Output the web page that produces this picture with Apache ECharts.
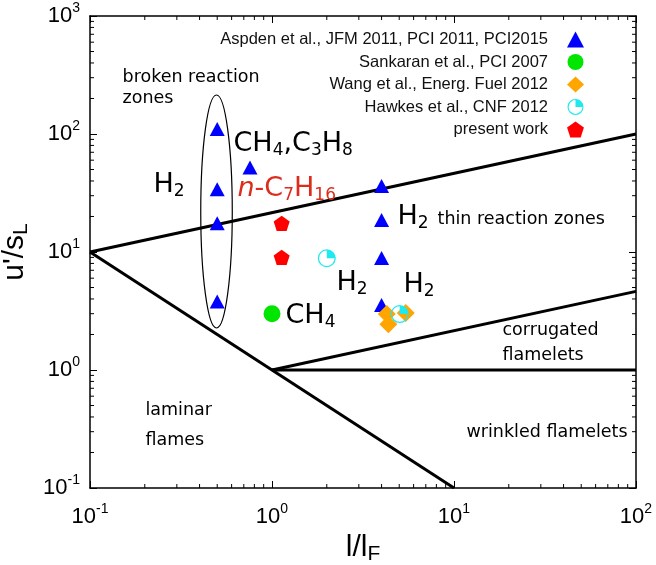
<!DOCTYPE html>
<html>
<head>
<meta charset="utf-8">
<script src="https://cdn.jsdelivr.net/npm/echarts@6/dist/echarts.min.js"></script>
<style>
  html, body { margin: 0; padding: 0; background: #fff; }
  #chart { width: 656px; height: 565px; }
</style>
</head>
<body>
<div id="chart"></div>
<script>
// ---- data: points on the regime diagram, [l/lF, u'/sL] ----
const aspden   = [[0.5, 110], [0.5, 34], [0.5, 17.5], [0.5, 3.8], [0.757, 52],
                  [4, 36.2], [4, 18.7], [4, 8.9], [4, 3.56]];
const sankaran = [[1.0, 3.0]];
const wang     = [[4.27, 2.98], [4.36, 2.44], [5.43, 3.04]];
const hawkes   = [[2.0, 8.85], [5.03, 2.98]];
const present  = [[1.13, 17.5], [1.13, 9.0]];

const seriesNames = [
  'Aspden et al., JFM 2011, PCI 2011, PCI2015',
  'Sankaran et al., PCI 2007',
  'Wang et al., Energ. Fuel 2012',
  'Hawkes et al., CNF 2012',
  'present work'
];

// ---- regime boundaries (end points) ----
const boundaryLines = [
  [[0.1, 10], [100, 100]],   // Ka = 100
  [[0.1, 10], [10, 0.1]],    // Re = 1
  [[1, 1], [100, 4.64]],     // Ka = 1
  [[1, 1], [100, 1]]         // u'/sL = 1
];
// outline around the Aspden points at l/lF = 0.5
const ellipseBox = [[0.406, 2.27], [0.605, 214]];

// ---- axes ----
const xRange = [0.1, 100];
const yRange = [0.1, 1000];
const xDecades = [0.1, 1, 10];
const yDecades = [0.1, 1, 10, 100];
const minorMantissas = [2, 3, 4, 5, 6, 7, 8, 9];

// ---- text labels in the regions ----
const regionLabels = [
  { at: [0.150, 300],  text: 'broken reaction' },
  { at: [0.150, 199],  text: 'zones' },
  { at: [8.07, 18.8],  text: 'thin reaction zones' },
  { at: [18.35, 2.153], text: 'corrugated' },
  { at: [18.35, 1.32], text: 'flamelets' },
  { at: [0.2005, 0.452], text: 'laminar' },
  { at: [0.2005, 0.252], text: 'flames' },
  { at: [11.64, 0.294], text: 'wrinkled flamelets' }
];
const fuelLabels = [
  { at: [0.6106, 82.3], parts: [['m', 'CH'], ['s', '4'], ['m', ',C'], ['s', '3'], ['m', 'H'], ['s', '8']] },
  { at: [0.2219, 37.0], parts: [['m', 'H'], ['s', '2']] },
  { at: [0.6423, 34.2], parts: [['i', 'n'], ['m', '-C'], ['s', '7'], ['m', 'H'], ['s', '16']], color: '#dd2c1c' },
  { at: [4.86, 19.8],   parts: [['m', 'H'], ['s', '2']] },
  { at: [2.247, 5.46],  parts: [['m', 'H'], ['s', '2']] },
  { at: [5.245, 5.25],  parts: [['m', 'H'], ['s', '2']] },
  { at: [1.179, 2.87],  parts: [['m', 'CH'], ['s', '4']] }
];

const SANS = 'Liberation Sans';
const LABEL_FONT = 'DejaVu Sans';

// pentagon and a ring with one filled quadrant
const pentagonPath = 'path://M0,-1 L0.951,-0.309 L0.588,0.809 L-0.588,0.809 L-0.951,-0.309 Z';
const quarterRingPath = 'path://M0,-10 A10,10 0 1 1 0,10 A10,10 0 1 1 0,-10 Z ' +
  'M0,-8.6 A8.6,8.6 0 1 0 0,8.6 A8.6,8.6 0 1 0 0,-8.6 Z ' +
  'M0,0 L0,-8.6 A8.6,8.6 0 0 1 8.6,0 Z';

function powerLabel(v) {
  const e = Math.round(Math.log10(v));
  return '{b|10}{s|' + e + '}';
}
const powerRich = {
  b: { fontFamily: SANS, fontSize: 22, color: '#000', lineHeight: 30 },
  s: { fontFamily: SANS, fontSize: 14, color: '#000', verticalAlign: 'top', lineHeight: 16 }
};

function axisBase(extra) {
  return Object.assign({
    type: 'log',
    logBase: 10,
    axisLine: { show: true, onZero: false, lineStyle: { color: '#000', width: 1.5 } },
    axisTick: { show: true, inside: true, length: 7, lineStyle: { color: '#000', width: 1 } },
    splitLine: { show: false },
    minorTick: { show: false }
  }, extra);
}

const chart = echarts.init(document.getElementById('chart'), null, { renderer: 'canvas' });

// minor ticks at 2..9 x 10^n on the four sides
const xMinor = [];
xDecades.forEach(d => minorMantissas.forEach(m => xMinor.push([m * d, 1])));
const yMinor = [];
yDecades.forEach(d => minorMantissas.forEach(m => yMinor.push([1, m * d])));
const MINOR_LEN = 4;

function minorTickSeries(data, isX) {
  return {
    type: 'custom',
    silent: true,
    clip: false,
    z: 3,
    data: data,
    renderItem: function (params, api) {
      const cs = params.coordSys;
      const style = { stroke: '#000', lineWidth: 1 };
      if (isX) {
        const px = api.coord([api.value(0), 1])[0];
        const b = cs.y + cs.height, t = cs.y;
        return { type: 'group', children: [
          { type: 'line', shape: { x1: px, y1: b, x2: px, y2: b - MINOR_LEN }, style: style },
          { type: 'line', shape: { x1: px, y1: t, x2: px, y2: t + MINOR_LEN }, style: style }
        ] };
      }
      const py = api.coord([1, api.value(1)])[1];
      const l = cs.x, r = cs.x + cs.width;
      return { type: 'group', children: [
        { type: 'line', shape: { x1: l, y1: py, x2: l + MINOR_LEN, y2: py }, style: style },
        { type: 'line', shape: { x1: r, y1: py, x2: r - MINOR_LEN, y2: py }, style: style }
      ] };
    }
  };
}

const series = [];

// regime boundary lines
boundaryLines.forEach(seg => {
  series.push({
    type: 'line', data: seg, symbol: 'none', silent: true, z: 2,
    lineStyle: { color: '#000', width: 3 }, animation: false
  });
});

// ellipse
series.push({
  type: 'custom', silent: true, z: 2, clip: false,
  data: [ellipseBox[0].concat(ellipseBox[1])],
  renderItem: function (params, api) {
    const p0 = api.coord([api.value(0), api.value(1)]);
    const p1 = api.coord([api.value(2), api.value(3)]);
    return {
      type: 'ellipse',
      shape: { cx: (p0[0] + p1[0]) / 2, cy: (p0[1] + p1[1]) / 2,
               rx: Math.abs(p1[0] - p0[0]) / 2, ry: Math.abs(p1[1] - p0[1]) / 2 },
      style: { fill: 'none', stroke: '#000', lineWidth: 1.2 }
    };
  }
});

series.push(minorTickSeries(xMinor, true));
series.push(minorTickSeries(yMinor, false));

// marker series
const markerDefs = [
  { data: aspden,   symbol: 'triangle',     size: [15, 14], color: '#0000ff' },
  { data: sankaran, symbol: 'circle',       size: 17,       color: '#00e600' },
  { data: wang,     symbol: 'diamond',      size: 18,       color: '#ffa500' },
  { data: hawkes,   symbol: quarterRingPath, size: 18,      color: '#1ee8f0' },
  { data: present,  symbol: pentagonPath,   size: 16,       color: '#ff0000' }
];
markerDefs.forEach((d, i) => {
  series.push({
    name: seriesNames[i],
    type: 'scatter',
    data: d.data,
    symbol: d.symbol,
    symbolSize: d.size,
    symbolKeepAspect: true,
    itemStyle: { color: d.color, opacity: 1 },
    z: 5 + i,
    animation: false
  });
});

// text labels anchored in data coordinates
const labelData = regionLabels.map(l => ({
  value: l.at,
  label: { formatter: l.text, fontFamily: LABEL_FONT, fontSize: 17.5, color: '#000', opacity: 1 }
}));
fuelLabels.forEach(l => {
  const c = l.color || '#000';
  labelData.push({
    value: l.at,
    label: {
      opacity: 1,
      formatter: l.parts.map(p => '{' + p[0] + '|' + p[1] + '}').join(''),
      rich: {
        m: { fontFamily: LABEL_FONT, fontSize: 27, color: c, lineHeight: 30 },
        i: { fontFamily: LABEL_FONT, fontSize: 27, color: c, fontStyle: 'italic', lineHeight: 30 },
        s: { fontFamily: LABEL_FONT, fontSize: 17, color: c, verticalAlign: 'bottom', lineHeight: 17 }
      }
    }
  });
});
series.push({
  type: 'scatter',
  silent: true,
  data: labelData,
  symbolSize: 1,
  itemStyle: { color: 'rgba(0,0,0,0)', opacity: 1 },
  label: { show: true, position: 'right', distance: 0 },
  z: 10,
  animation: false
});

chart.setOption({
  animation: false,
  backgroundColor: '#fff',
  grid: { left: 90, right: 20, top: 16, bottom: 77, outerBoundsMode: 'none', containLabel: false },
  legend: {
    data: seriesNames,
    orient: 'vertical',
    right: 67,
    top: 26,
    align: 'right',
    itemWidth: 17,
    itemHeight: 16,
    itemGap: 5.5,
    selectedMode: false,
    textStyle: { fontFamily: SANS, fontSize: 16.5, color: '#111', padding: [0, 14, 0, 0] }
  },
  xAxis: [
    axisBase({
      min: xRange[0], max: xRange[1], position: 'bottom',
      axisLabel: { margin: 14, formatter: powerLabel, rich: powerRich },
      name: '{m|l/l}{s|F}',
      nameLocation: 'middle',
      nameGap: 33,
      nameTextStyle: {
        rich: {
          m: { fontFamily: SANS, fontSize: 30, color: '#000', lineHeight: 34 },
          s: { fontFamily: SANS, fontSize: 21, color: '#000', verticalAlign: 'bottom', lineHeight: 20 }
        }
      }
    }),
    axisBase({ min: xRange[0], max: xRange[1], position: 'top', axisLabel: { show: false } })
  ],
  yAxis: [
    axisBase({
      min: yRange[0], max: yRange[1], position: 'left',
      axisLabel: { margin: 10, formatter: powerLabel, rich: powerRich },
      name: "{m|u'/s}{s|L}",
      nameLocation: 'middle',
      nameGap: 36,
      nameTextStyle: {
        rich: {
          m: { fontFamily: SANS, fontSize: 30, color: '#000', lineHeight: 34 },
          s: { fontFamily: SANS, fontSize: 21, color: '#000', verticalAlign: 'bottom', lineHeight: 20 }
        }
      }
    }),
    axisBase({ min: yRange[0], max: yRange[1], position: 'right', axisLabel: { show: false } })
  ],
  series: series
});
</script>
</body>
</html>
